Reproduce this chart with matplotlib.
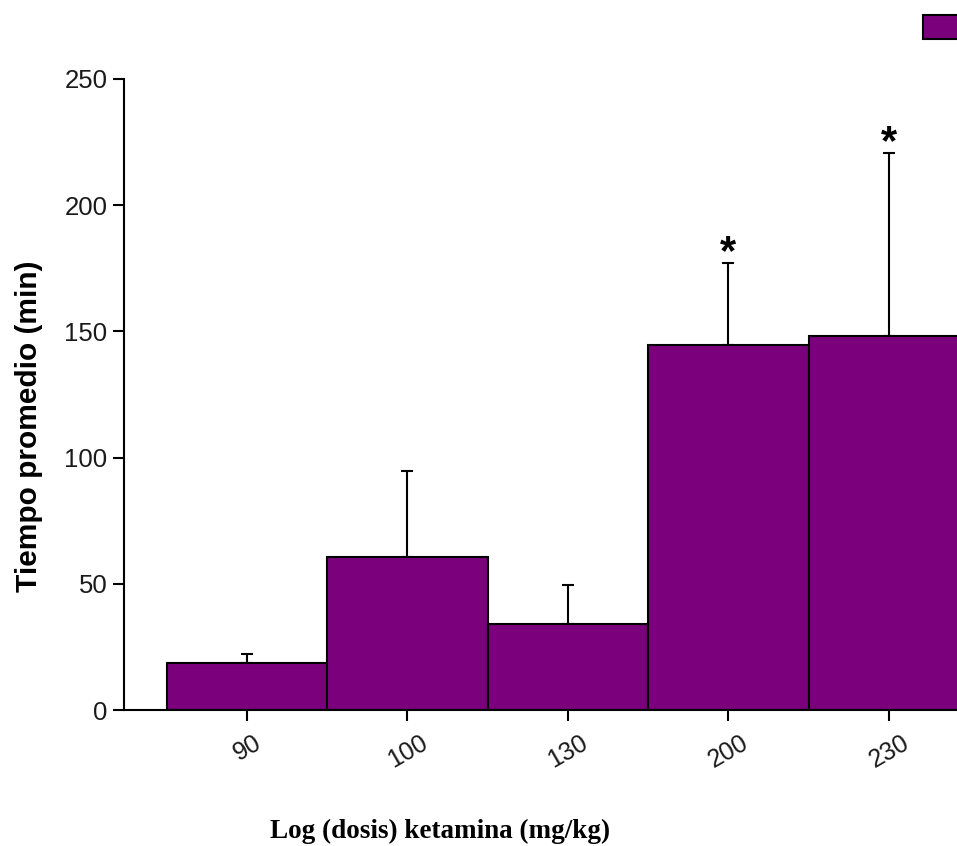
import numpy as np
import matplotlib
matplotlib.use('Agg')
import matplotlib.pyplot as plt

# dosis de ketamina y tiempos promedio
doses = ['90', '100', '130', '200', '230']
means = [18.6, 60.6, 34.1, 144.6, 148.2]
errs = [3.6, 34.1, 15.4, 32.5, 72.5]
signif = ['', '', '', '*', '*']

bar_color = '#7B007B'

fig = plt.figure(figsize=(9.57, 8.46), dpi=100)
# axes run past the right edge like in the original crop
ax = fig.add_axes([124/957, 136/846, 880/957, 631/846])

x = np.arange(len(doses))
bars = ax.bar(x, means, width=1.0, color=bar_color, edgecolor='black', linewidth=1.5,
              label=' ', zorder=2)
ax.errorbar(x, means, yerr=[np.zeros(len(errs)), errs], fmt='none', ecolor='black',
            elinewidth=1.5, capsize=4, capthick=1.5, zorder=1)
for xi, m, e, s in zip(x, means, errs, signif):
    if s:
        ax.annotate(s, (xi, m + e), xytext=(0, -7), textcoords='offset points',
                    ha='center', va='bottom', fontsize=30, fontweight='bold',
                    family='Liberation Sans')

ax.set_xlim(-0.766, (1004 - 247) / 160.5)
ax.set_ylim(0, 250)
ax.set_yticks([0, 50, 100, 150, 200, 250])
ax.set_xticks(x)
ax.set_xticklabels(doses, rotation=30, family='Liberation Sans', fontsize=18)
for lab in ax.get_yticklabels():
    lab.set_family('Liberation Sans')
    lab.set_fontsize(18.5)
ax.tick_params(axis='both', length=8, width=1.5, color='black', labelcolor='#1a1a1a')
ax.tick_params(axis='x', pad=7)
ax.tick_params(axis='y', pad=4)
for s in ['top', 'right']:
    ax.spines[s].set_visible(False)
for s in ['left', 'bottom']:
    ax.spines[s].set_linewidth(1.5)

ax.set_ylabel('Tiempo promedio (min)', family='Liberation Sans', fontweight='bold',
              fontsize=21.5)
ax.yaxis.set_label_coords(-0.092, 0.45)
fig.text(440/957, 1 - 831/846, 'Log (dosis) ketamina (mg/kg)', ha='center', va='center',
         family='Liberation Serif', fontweight='bold', fontsize=19.5)

fig.legend(handles=[bars], labels=[''], loc='upper left',
           bbox_to_anchor=(923/957, 1 - 15/846), frameon=False, borderpad=0,
           borderaxespad=0, handlelength=3, handleheight=1.5, fontsize=14)

fig.savefig('out.png', dpi=100)
